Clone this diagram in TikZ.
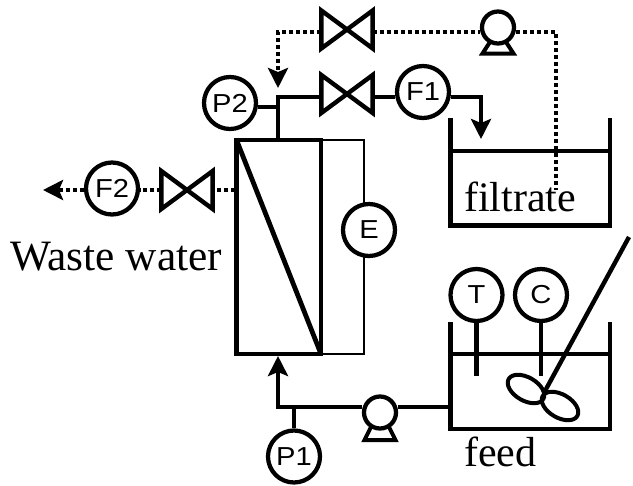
\documentclass[tikz,border=0pt]{standalone}
\usepackage{fontspec}
\setmainfont{Liberation Serif}
\newfontfamily\gaugefont[FakeStretch=1.12]{Liberation Sans}
\usepackage{tikz}
\usetikzlibrary{arrows.meta,shapes.geometric}
\tikzset{
  pipe/.style={line width=3.3pt},
  drain/.style={line width=3.5pt,dash pattern=on 3pt off 2.25pt},
  wire/.style={line width=1.1pt},
  gauge/.style={circle,draw,line width=3.2pt,inner sep=0pt,minimum size=39pt,font=\gaugefont\fontsize{19.5}{19.5}\selectfont},
  pumphead/.style={circle,draw,line width=3.2pt,inner sep=0pt,minimum size=24pt},
  valve/.style={rectangle,inner sep=0pt,outer sep=0pt,minimum width=38.5pt,minimum height=28.5pt},
  blade/.style={ellipse,draw,line width=3pt,inner sep=0pt,minimum width=30pt,minimum height=17.5pt,rotate=-30},
  caption/.style={inner sep=0pt,font=\fontsize{31.5}{32}\selectfont,anchor=base west}
}
\begin{document}
\begin{tikzpicture}[>={Stealth[length=15pt,width=15pt,inset=3pt]},x=0.75pt,y=-0.75pt]
\useasboundingbox (0,0) rectangle (633,486);
% gauges
\node[gauge] (p2) at (230,103) {P2};
\node[gauge] (f1) at (423,92) {F1};
\node[gauge] (f2) at (112,188.5) {F2};
\node[gauge] (e) at (369,230) {E};
\node[gauge] (p1) at (294,456.5) {P1};
\node[gauge] (t) at (476.5,295) {T};
\node[gauge] (c) at (541,295) {C};
% valves and pumps
\node[valve] (vtop) at (347,29.5) {};
\node[valve] (vmid) at (347,94) {};
\node[valve] (vout) at (187,190) {};
\node[pumphead] (pumpa) at (498,27.5) {};
\node[pumphead] (pumpb) at (380,412.5) {};
\foreach \v in {vtop,vmid,vout}
  \draw[pipe,line join=miter] (\v.north west) -- (\v.south east) -- (\v.north east) -- (\v.south west) -- cycle;
\draw[line width=3pt] (490,42) -- (482.5,53.5) -- (513.5,53.5) -- (506,42);
\draw[line width=3pt] (371,427) -- (364.5,440) -- (395.5,440) -- (389,427);
% module
\coordinate (mnw) at (236.5,140);
\coordinate (mne) at (321,140);
\coordinate (mse) at (321,354);
\coordinate (msw) at (236.5,354);
\coordinate (enw) at (364,140);
\coordinate (eup) at (364,203);
\coordinate (edown) at (364,257);
\coordinate (ese) at (364,354);
\draw[wire] (mne) -- (enw) -- (eup);
\draw[wire] (edown) -- (ese) -- (mse);
\draw[line width=3.6pt] (mnw) -- (mne) -- (mse) -- (msw) -- cycle;
\draw[line width=3.6pt] (mnw) -- (mse);
% filtrate tank
\coordinate (ftl) at (450.5,118);
\coordinate (ftr) at (610,118);
\coordinate (frl) at (450.5,151);
\coordinate (frr) at (610,151);
\coordinate (fbl) at (450.5,225.5);
\coordinate (fbr) at (610,225.5);
\draw[pipe] (ftl) -- (fbl) -- (fbr) -- (ftr);
\draw[pipe] (frl) -- (frr);
% feed tank
\coordinate (stl) at (450.5,322);
\coordinate (str) at (610,322);
\coordinate (srl) at (450.5,354);
\coordinate (srr) at (610,354);
\coordinate (sbl) at (450.5,429);
\coordinate (sbr) at (610,429);
\draw[pipe] (stl) -- (sbl) -- (sbr) -- (str);
\draw[pipe] (srl) -- (srr);
% stirrer
\node[blade] (bladea) at (526,389) {};
\node[blade] (bladeb) at (560,406) {};
\coordinate (hub) at (545,391);
\coordinate (shaft) at (629,237);
\draw[pipe] (hub) -- (shaft);
\coordinate (tend) at (476,376);
\coordinate (cend) at (540,376);
\draw[pipe] (t.south) -- (t.south |- tend);
\draw[pipe] (c.south) -- (c.south |- cend);
% solid lines
\coordinate (topin) at (278,140);
\coordinate (topbend) at (278,97);
\coordinate (p2tee) at (278,107);
\coordinate (f1bend) at (481,97);
\coordinate (f1tip) at (481,139);
\coordinate (feedbend) at (278,407);
\coordinate (feedtip) at (278,356);
\coordinate (p1tee) at (294,407);
\coordinate (feedout) at (449,407);
\draw[pipe] (topin) -- (topbend) -- (vmid.west |- topbend);
\draw[pipe] (p2.east |- p2tee) -- (p2tee);
\draw[pipe] (vmid.east |- topbend) -- (f1.west |- topbend);
\draw[pipe,->] (f1.east |- f1bend) -- (f1bend) -- (f1tip);
\draw[pipe,->] (pumpb.west |- feedbend) -- (feedbend) -- (feedtip);
\draw[pipe] (p1) -- (p1tee);
\draw[pipe] (feedout) -- (pumpb.east |- feedout);
% dotted lines
\coordinate (ltop) at (278,32);
\coordinate (ltip) at (278,88);
\coordinate (rtop) at (556,32);
\coordinate (rend) at (556,190);
\coordinate (wout) at (235,190);
\coordinate (wtip) at (43,190);
\draw[drain,->] (vtop.west |- ltop) -- (ltop) -- (ltip);
\draw[drain] (vtop.east |- ltop) -- (pumpa.west |- ltop);
\draw[drain] (pumpa.east |- rtop) -- (rtop) -- (rend);
\draw[drain] (wout) -- (vout.east);
\draw[drain] (vout.west) -- (f2.east |- wout);
\draw[drain,->] (f2.west |- wout) -- (wtip);
% captions
\node[caption] (filtrate) at (464,211) {filtrate};
\node[caption] (feed) at (464,466) {feed};
\node[caption,font=\fontsize{32.5}{33}\selectfont] (waste) at (10,270) {Waste water};
\end{tikzpicture}
\end{document}
